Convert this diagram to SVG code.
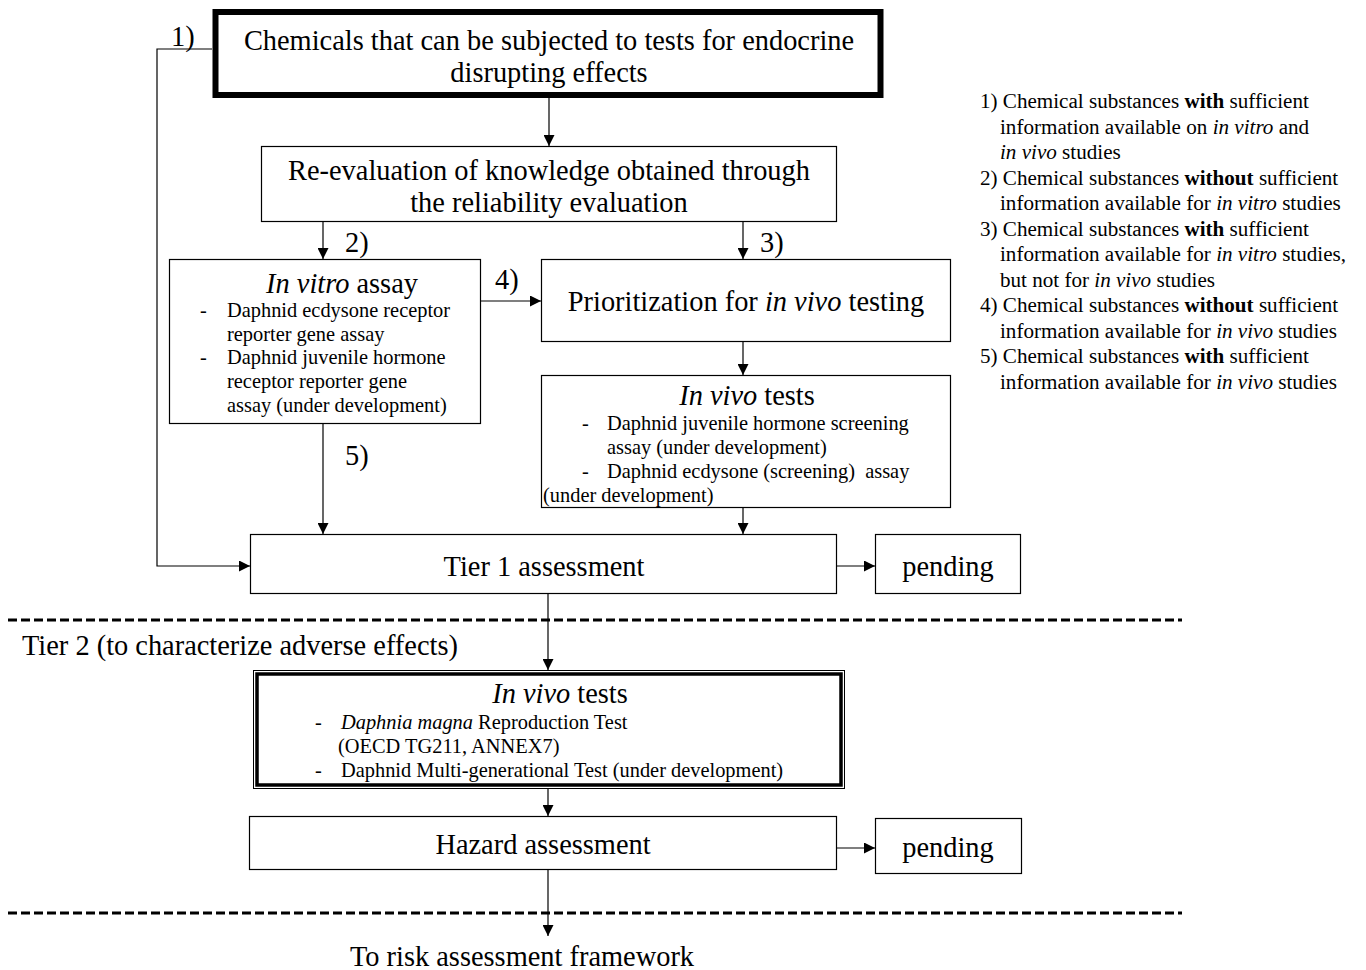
<svg xmlns="http://www.w3.org/2000/svg" width="1366" height="970" viewBox="0 0 1366 970">
  <style>
    text { font-family: "Liberation Serif", "Times New Roman", serif; fill: #000; }
    .big { font-size: 28.4px; }
    .sm { font-size: 20.4px; }
    .lg { font-size: 21.1px; }
    .mid { text-anchor: middle; }
    .i { font-style: italic; }
    .b { font-weight: bold; }
    .box { fill: #fff; stroke: #000; stroke-width: 1.2; }
    .wire { fill: none; stroke: #000; stroke-width: 1.2; marker-end: url(#arrow); }
    .dash { stroke: #000; stroke-width: 3; stroke-dasharray: 9 4; }
  </style>
  <defs>
    <marker id="arrow" markerUnits="userSpaceOnUse" markerWidth="11" markerHeight="11" refX="11" refY="5.5" orient="auto">
      <path d="M0,0 L11,5.5 L0,11 z" fill="#000"/>
    </marker>
  </defs>
  <rect width="1366" height="970" fill="#fff"/>

  <!-- tier separators -->
  <line class="dash" x1="8" y1="620" x2="1182" y2="620"/>
  <line class="dash" x1="8" y1="913" x2="1182" y2="913"/>

  <!-- connectors -->
  <g id="connectors">
    <path class="wire" d="M549,97 V146"/>
    <path class="wire" d="M323,221.5 V259"/>
    <path class="wire" d="M743,221.5 V259"/>
    <path class="wire" d="M480.5,301 H541"/>
    <path class="wire" d="M743,341.5 V375"/>
    <path class="wire" d="M323,423.5 V534"/>
    <path class="wire" d="M743,507.5 V534"/>
    <path class="wire" d="M212,49 H157 V566 H250"/>
    <path class="wire" d="M836.5,566 H875"/>
    <path class="wire" d="M548,593.5 V670"/>
    <path class="wire" d="M548,788.5 V816"/>
    <path class="wire" d="M836.5,848 H875"/>
    <path class="wire" d="M548,869.5 V936"/>
    <text class="big" x="171" y="46">1)</text>
    <text class="big" x="345" y="252">2)</text>
    <text class="big" x="760" y="252">3)</text>
    <text class="big" x="495" y="289">4)</text>
    <text class="big" x="345" y="465">5)</text>
  </g>

  <g id="chemicals">
    <rect x="215.5" y="12" width="665" height="83" fill="#fff" stroke="#000" stroke-width="6"/>
    <text class="big mid" x="549" y="50">Chemicals that can be subjected to tests for endocrine</text>
    <text class="big mid" x="549" y="82">disrupting effects</text>
  </g>

  <g id="reevaluation">
    <rect class="box" x="261.5" y="146.5" width="575" height="75"/>
    <text class="big mid" x="549" y="180">Re-evaluation of knowledge obtained through</text>
    <text class="big mid" x="549" y="212">the reliability evaluation</text>
  </g>

  <g id="in-vitro">
    <rect class="box" x="169.5" y="259.5" width="311" height="164"/>
    <text class="big mid" x="342" y="293"><tspan class="i">In vitro</tspan> assay</text>
    <text class="sm" x="200" y="317">-</text>
    <text class="sm" x="227" y="317">Daphnid ecdysone receptor</text>
    <text class="sm" x="227" y="341">reporter gene assay</text>
    <text class="sm" x="200" y="364">-</text>
    <text class="sm" x="227" y="364">Daphnid juvenile hormone</text>
    <text class="sm" x="227" y="388">receptor reporter gene</text>
    <text class="sm" x="227" y="412">assay (under development)</text>
  </g>

  <g id="prioritization">
    <rect class="box" x="541.5" y="259.5" width="409" height="82"/>
    <text class="big mid" x="746" y="311">Prioritization for <tspan class="i">in vivo</tspan> testing</text>
  </g>

  <g id="in-vivo-screening">
    <rect class="box" x="541.5" y="375.5" width="409" height="132"/>
    <text class="big mid" x="747" y="405"><tspan class="i">In vivo</tspan> tests</text>
    <text class="sm" x="582" y="430">-</text>
    <text class="sm" x="607" y="430">Daphnid juvenile hormone screening</text>
    <text class="sm" x="607" y="454">assay (under development)</text>
    <text class="sm" x="582" y="478">-</text>
    <text class="sm" x="607" y="478" xml:space="preserve">Daphnid ecdysone (screening)  assay</text>
    <text class="sm" x="543" y="502">(under development)</text>
  </g>

  <g id="tier1">
    <rect class="box" x="250.5" y="534.5" width="586" height="59"/>
    <text class="big mid" x="544" y="576">Tier 1 assessment</text>
  </g>

  <g id="pending-tier1">
    <rect class="box" x="875.5" y="534.5" width="145" height="59"/>
    <text class="big mid" x="948" y="576">pending</text>
  </g>

  <text class="big" x="22" y="655">Tier 2 (to characterize adverse effects)</text>

  <g id="in-vivo-tier2">
    <rect x="253.5" y="670.5" width="591" height="118" fill="#fff" stroke="#000" stroke-width="1"/>
    <rect x="257" y="674" width="584" height="111" fill="none" stroke="#000" stroke-width="3.5"/>
    <text class="big mid" x="560" y="703"><tspan class="i">In vivo</tspan> tests</text>
    <text class="sm" x="315" y="729">-</text>
    <text class="sm" x="341" y="729"><tspan class="i">Daphnia magna</tspan> Reproduction Test</text>
    <text class="sm" x="338" y="753">(OECD TG211, ANNEX7)</text>
    <text class="sm" x="315" y="777">-</text>
    <text class="sm" x="341" y="777">Daphnid Multi-generational Test (under development)</text>
  </g>

  <g id="hazard">
    <rect class="box" x="249.5" y="816.5" width="587" height="53"/>
    <text class="big mid" x="543" y="854">Hazard assessment</text>
  </g>

  <g id="pending-hazard">
    <rect class="box" x="875.5" y="818.5" width="146" height="55"/>
    <text class="big mid" x="948" y="857">pending</text>
  </g>

  <text class="big mid" x="522" y="966">To risk assessment framework</text>

  <g id="legend">
    <text class="lg" x="980" y="108">1) Chemical substances <tspan class="b">with</tspan> sufficient</text>
    <text class="lg" x="1000" y="133.5">information available on <tspan class="i">in vitro</tspan> and</text>
    <text class="lg" x="1000" y="159"><tspan class="i">in vivo</tspan> studies</text>
    <text class="lg" x="980" y="184.5">2) Chemical substances <tspan class="b">without</tspan> sufficient</text>
    <text class="lg" x="1000" y="210">information available for <tspan class="i">in vitro</tspan> studies</text>
    <text class="lg" x="980" y="235.5">3) Chemical substances <tspan class="b">with</tspan> sufficient</text>
    <text class="lg" x="1000" y="261">information available for <tspan class="i">in vitro</tspan> studies,</text>
    <text class="lg" x="1000" y="286.5">but not for <tspan class="i">in vivo</tspan> studies</text>
    <text class="lg" x="980" y="312">4) Chemical substances <tspan class="b">without</tspan> sufficient</text>
    <text class="lg" x="1000" y="337.5">information available for <tspan class="i">in vivo</tspan> studies</text>
    <text class="lg" x="980" y="363">5) Chemical substances <tspan class="b">with</tspan> sufficient</text>
    <text class="lg" x="1000" y="388.5">information available for <tspan class="i">in vivo</tspan> studies</text>
  </g>
</svg>
